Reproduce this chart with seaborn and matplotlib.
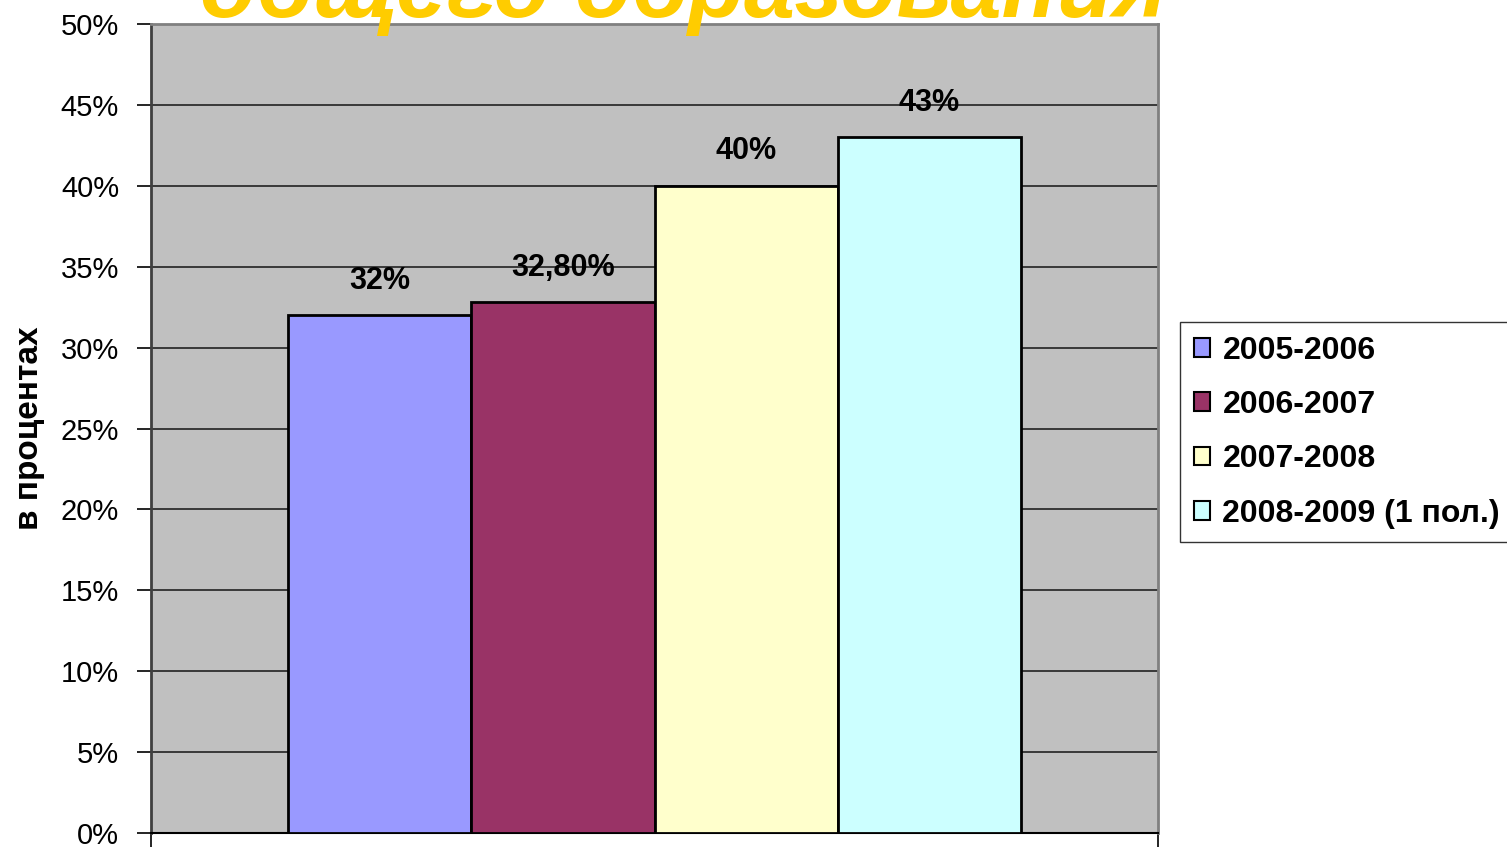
import matplotlib
matplotlib.use("Agg")
import matplotlib.pyplot as plt
import seaborn as sns
import pandas as pd
from matplotlib.patches import Patch
from matplotlib.ticker import MultipleLocator, FuncFormatter

series = ["2005-2006", "2006-2007", "2007-2008", "2008-2009 (1 пол.)"]
values = [32.0, 32.8, 40.0, 43.0]
labels = ["32%", "32,80%", "40%", "43%"]
colors = ["#9999FF", "#993366", "#FFFFCC", "#CCFFFF"]
title = "общего образования"
ylabel = "в процентах"

df = pd.DataFrame({"cat": [""] * len(series), "series": series, "value": values})

sns.set_style("white")
plt.rcParams["font.family"] = ["Liberation Sans", "DejaVu Sans"]
plt.rcParams["text.color"] = "black"
plt.rcParams["axes.labelcolor"] = "black"
plt.rcParams["xtick.color"] = "black"
plt.rcParams["ytick.color"] = "black"

fig = plt.figure(figsize=(15.07, 8.49), dpi=100)
ax = fig.add_axes([151 / 1507, 1 - 833 / 849, (1158 - 151) / 1507, (833 - 24) / 849])
ax.set_facecolor("#C0C0C0")

sns.barplot(data=df, x="cat", y="value", hue="series", hue_order=series,
            palette=colors, width=0.728, edgecolor="black", linewidth=2,
            saturation=1, legend=False, ax=ax, zorder=3)

ax.set_xlim(-0.5, 0.5)
ax.set_ylim(0, 50)
ax.yaxis.set_major_locator(MultipleLocator(5))
ax.yaxis.set_major_formatter(FuncFormatter(lambda v, p: f"{int(round(v))}%"))
ax.grid(axis="y", color="#222222", linewidth=1.2, zorder=1)
ax.set_axisbelow(True)
ax.tick_params(axis="y", direction="out", length=10, width=1.2, pad=13,
               labelsize=21, left=True, color="black", labelcolor="black")
ax.set_xticks([-0.5, 0.5])
ax.set_xticklabels(["", ""])
ax.tick_params(axis="x", direction="out", length=10, width=1.2, bottom=True, color="black")
ax.set_xlabel("")
ax.set_ylabel(ylabel, fontsize=24, fontweight="bold", labelpad=11, color="black")

for s in ["top", "right"]:
    ax.spines[s].set_color("#808080")
    ax.spines[s].set_linewidth(2)
ax.spines["left"].set_color("#404040")
ax.spines["left"].set_linewidth(2)
ax.spines["bottom"].set_color("black")
ax.spines["bottom"].set_linewidth(1.5)

for cont, lab in zip(ax.containers, labels):
    ax.bar_label(cont, labels=[lab], padding=14, fontsize=22, fontweight="bold",
                 color="black")

handles = [Patch(facecolor=c, edgecolor="black", linewidth=1.5) for c in colors]
leg = fig.legend(handles, series, loc="upper left",
                 bbox_to_anchor=(1180 / 1507, 1 - 322 / 849),
                 prop={"size": 23, "weight": "bold"}, frameon=True, fancybox=False,
                 edgecolor="black", handlelength=0.52, handleheight=0.52,
                 handletextpad=0.38, labelspacing=0.76, borderpad=0.43,
                 borderaxespad=0, labelcolor="black")
leg.get_frame().set_linewidth(1)

fig.text(683 / 1507, 1 - 17 / 849, title, color="#FFCC00", fontsize=66,
         fontweight="bold", fontstyle="italic", ha="center", va="baseline")

fig.savefig("out.png", dpi=100, facecolor="white")
